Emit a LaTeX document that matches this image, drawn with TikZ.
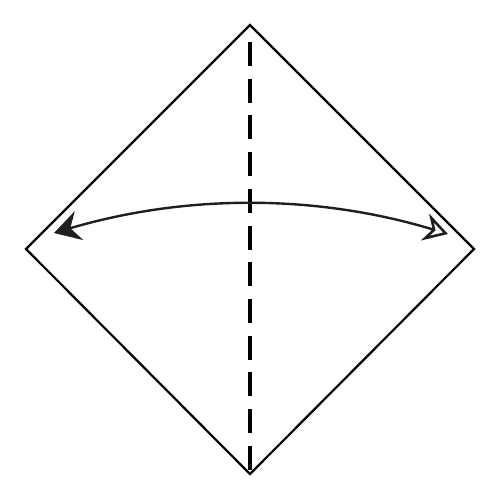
\documentclass[tikz,border=0pt]{standalone}
\usetikzlibrary{arrows.meta,positioning,calc}

\begin{document}
\begin{tikzpicture}[x=0.5pt,y=-0.5pt,
    paper/.style={line width=1.1pt, line join=miter},
    valley/.style={line width=2pt, dash pattern=on 12pt off 6.35pt},
    flip/.style={line width=1.2pt, draw=black!88}]
    \useasboundingbox (0,0) rectangle (500,500);
    \coordinate (top) at (250,25);
    \coordinate (left) at (26,249);
    \coordinate (right) at (474,249);
    \coordinate (bottom) at (250,474);
    \coordinate (foldstart) at (250,42);
    \coordinate (arcleft) at (54,233);
    \coordinate (arcright) at (448,234);

    \draw[paper] (top) -- (right) -- (bottom) -- (left) -- cycle;
    \draw[valley] (foldstart) -- (bottom);
    \draw[flip, {Stealth[length=13pt,width=15pt,inset=4.5pt]}-{Stealth[open,length=12pt,width=14pt,inset=4pt,line width=1.3pt]}]
      (arcleft) .. controls (186,194) and (316,194) .. (arcright);
\end{tikzpicture}
\end{document}
